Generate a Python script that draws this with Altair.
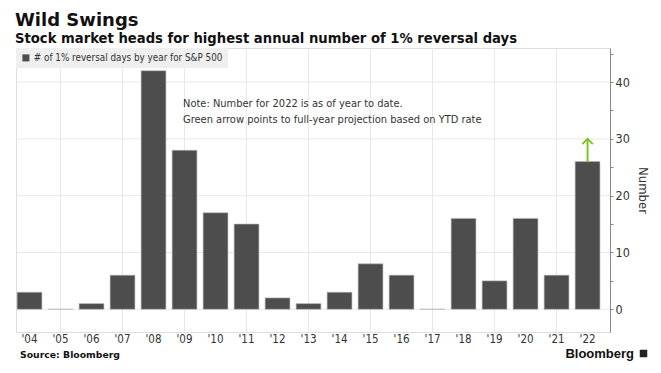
import altair as alt
import pandas as pd

# ---- data ----
years = ["'04", "'05", "'06", "'07", "'08", "'09", "'10", "'11", "'12", "'13",
         "'14", "'15", "'16", "'17", "'18", "'19", "'20", "'21", "'22"]
counts = [3, 0, 1, 6, 42, 28, 17, 15, 2, 1, 3, 8, 6, 0, 16, 5, 16, 6, 26]
series_name = "# of 1% reversal days by year for S&P 500"
grid_years = years[1::2]
y_grid = [0, 10, 20, 30, 40]
y_ticks = [0, 5, 10, 15, 20, 25, 30, 35, 40, 45]
proj_year = ["'22"]
ytd_value = [26]
proj_value = [30]
note_lines = ["Note: Number for 2022 is as of year to date.",
              "Green arrow points to full-year projection based on YTD rate"]
title_text = "Wild Swings"
subtitle_text = "Stock market heads for highest annual number of 1% reversal days"

df = pd.DataFrame({"year": years, "count": counts, "series": [series_name] * len(years)})
gx = pd.DataFrame({"year": grid_years})
gy = pd.DataFrame({"v": y_grid})
proj = pd.DataFrame({"year": proj_year, "from": ytd_value, "to": proj_value})

W, H = 594, 284
FONT = "DejaVu Sans"
COND = "DejaVu Sans Condensed"

xscale = alt.Scale(domain=years, paddingInner=0.2, paddingOuter=0.18, align=0.1)
yscale = alt.Scale(domain=[-4, 46], nice=False, zero=False)

x_axis = alt.Axis(title=None, labelAngle=0, ticks=False, domain=False, grid=False,
                  bandPosition=0.5, labelAlign="center",
                  labelFontSize=11.5, labelColor="#333333", labelPadding=1,
                  labelFont=COND)
y_axis = alt.Axis(orient="right", values=y_ticks,
                  labelExpr="datum.value % 10 === 0 ? datum.label : ''",
                  tickSize=3, tickColor="#888888", domainColor="#888888",
                  labelFontSize=12.5, labelColor="#333333", labelFont=COND,
                  labelPadding=2, grid=False,
                  title="Number", titleAngle=90, titleFontSize=13,
                  titleFontWeight="normal", titleColor="#333333", titleFont=COND,
                  titlePadding=6)


def xe():
    return alt.X("year:N", scale=xscale, sort=years, axis=x_axis)


def ye(field):
    return alt.Y(field, scale=yscale, axis=y_axis)


vgrid = alt.Chart(gx).mark_rule(color="#e8e8e8", strokeWidth=1).encode(
    x=xe(), y=alt.value(0), y2=alt.value(H))

hgrid = alt.Chart(gy).mark_rule(color="#e8e8e8", strokeWidth=1).encode(
    y=ye("v:Q"), x=alt.value(0), x2=alt.value(W))

bars = alt.Chart(df).mark_bar(stroke="#b5b5b5", strokeWidth=0.6).encode(
    x=xe(),
    y=ye("count:Q"),
    y2=alt.datum(0),
    color=alt.Color("series:N", scale=alt.Scale(range=["#4d4d4d"]),
                    legend=alt.Legend(title=None, orient="top-left", offset=0, padding=5,
                                      fillColor="#efefef", symbolType="square",
                                      symbolSize=49, symbolStrokeWidth=0, labelLimit=400,
                                      labelOffset=3,
                                      labelFontSize=9.8, labelColor="#333333",
                                      labelFont=COND)),
)

arrow = alt.Chart(proj).mark_rule(color="#7cc623", strokeWidth=2).encode(
    x=xe(), y=ye("from:Q"), y2="to:Q")

head = alt.Chart(proj).mark_point(shape="M-1,1L0,0L1,1", filled=False, stroke="#7cc623",
                                  strokeWidth=2, size=110, opacity=1).encode(
    x=xe(), y=ye("to:Q"))

one = pd.DataFrame({"a": [0]})

note = alt.Chart(one).mark_text(
    align="left", baseline="top", fontSize=11, color="#333333", font=COND, lineHeight=16
).encode(x=alt.value(167), y=alt.value(50), text=alt.value(note_lines))

source = alt.Chart(one).mark_text(
    align="left", baseline="middle", fontSize=9.3, fontWeight="bold", color="#111111",
    font=FONT
).encode(x=alt.value(4), y=alt.value(307), text=alt.value("Source: Bloomberg"))

logo = alt.Chart(one).mark_text(
    align="right", baseline="middle", fontSize=13, fontWeight="bold", color="#111111",
    font="Liberation Sans"
).encode(x=alt.value(618), y=alt.value(306), text=alt.value("Bloomberg"))

logo_icon = alt.Chart(one).mark_point(
    shape="square", filled=True, color="#222222", size=56, opacity=1
).encode(x=alt.value(627.5), y=alt.value(305.5))

chart = alt.layer(vgrid, hgrid, bars, arrow, head, note, source, logo, logo_icon).properties(
    width=W, height=H,
    padding={"left": 8, "top": 40, "right": 43, "bottom": 33},
    autosize=alt.AutoSizeParams(type="none"),
    title=alt.TitleParams(text=title_text, subtitle=subtitle_text,
                          anchor="start", frame="group", dx=-1, offset=2,
                          font=FONT, fontSize=18, fontWeight="bold", color="#111111",
                          subtitleFont=FONT, subtitleFontSize=13.2, subtitleFontWeight="bold",
                          subtitleColor="#111111", subtitlePadding=3),
).configure_view(stroke=None).configure(background="white")

chart.save("out.html", embed_options={"renderer": "svg", "actions": False})
